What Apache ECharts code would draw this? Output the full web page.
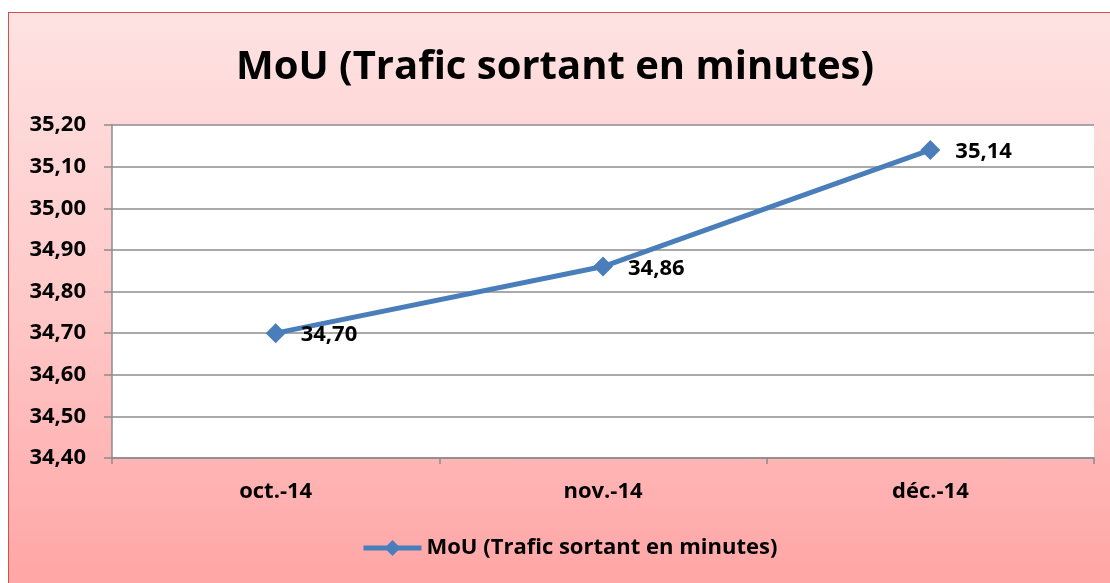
<!DOCTYPE html>
<html>
<head>
<meta charset="utf-8">
<script src="https://cdn.jsdelivr.net/npm/echarts@6/dist/echarts.min.js"></script>
<style>
  html, body { margin: 0; padding: 0; background: #fff; }
  #frame {
    position: absolute; left: 8px; top: 12px; width: 1110px; height: 590px;
    border: 1px solid #d0504d;
    background: linear-gradient(to bottom, #fee2e2 0%, #ffc8c8 50%, #ffa3a3 100%);
  }
  #chart { position: absolute; left: 0; top: 0; width: 1110px; height: 583px; }
</style>
</head>
<body>
<div id="frame"></div>
<div id="chart"></div>
<script>
// chart values
var titleText = "MoU (Trafic sortant en minutes)";
var months = ["oct.-14", "nov.-14", "déc.-14"];
var mouValues = [34.70, 34.86, 35.14];
var yMin = 34.4, yMax = 35.2, yStep = 0.1;

var fontFam = "'Open Sans', sans-serif";
var fmt = function (v) {
    return Number(v).toFixed(2).replace(".", ",");
};

var chart = echarts.init(document.getElementById("chart"));
chart.setOption({
    animation: false,
    backgroundColor: "transparent",
    title: {
        text: titleText,
        left: "center",
        top: 43,
        textStyle: { fontFamily: fontFam, fontWeight: "bold", fontSize: 40, color: "#000" }
    },
    legend: {
        bottom: 19,
        left: 356,
        itemWidth: 58,
        itemHeight: 20,
        itemGap: 4,
        lineStyle: { width: 5 },
        textStyle: { fontFamily: fontFam, fontWeight: "bold", fontSize: 22, color: "#000" },
        data: [titleText]
    },
    grid: {
        left: 112,
        right: 16,
        top: 125,
        bottom: 125,
        show: true,
        backgroundColor: "#fff",
        borderWidth: 0
    },
    xAxis: {
        type: "category",
        data: months,
        boundaryGap: true,
        axisLine: { lineStyle: { color: "#8c8c8c", width: 1.5 } },
        axisTick: { show: true, length: 6, lineStyle: { color: "#8c8c8c", width: 1.5 } },
        axisLabel: { margin: 23, fontFamily: fontFam, fontWeight: "bold", fontSize: 22, color: "#000" }
    },
    yAxis: {
        type: "value",
        min: yMin,
        max: yMax,
        interval: yStep,
        axisLine: { show: true, lineStyle: { color: "#8c8c8c", width: 1.5 } },
        axisTick: { show: true, length: 8, lineStyle: { color: "#8c8c8c", width: 1.5 } },
        splitLine: { lineStyle: { color: "#8c8c8c", width: 1.5 } },
        axisLabel: {
            margin: 26,
            formatter: fmt,
            fontFamily: fontFam, fontWeight: "bold", fontSize: 22, color: "#000"
        }
    },
    series: [{
        name: titleText,
        type: "line",
        data: mouValues,
        symbol: "diamond",
        symbolSize: 20,
        lineStyle: { color: "#4a7ebb", width: 5 },
        itemStyle: { color: "#4a7ebb" },
        label: {
            show: true,
            position: "right",
            distance: 15,
            offset: [0, 2],
            formatter: function (p) { return fmt(p.value); },
            fontFamily: fontFam, fontWeight: "bold", fontSize: 22, color: "#000"
        }
    }]
});
</script>
</body>
</html>
